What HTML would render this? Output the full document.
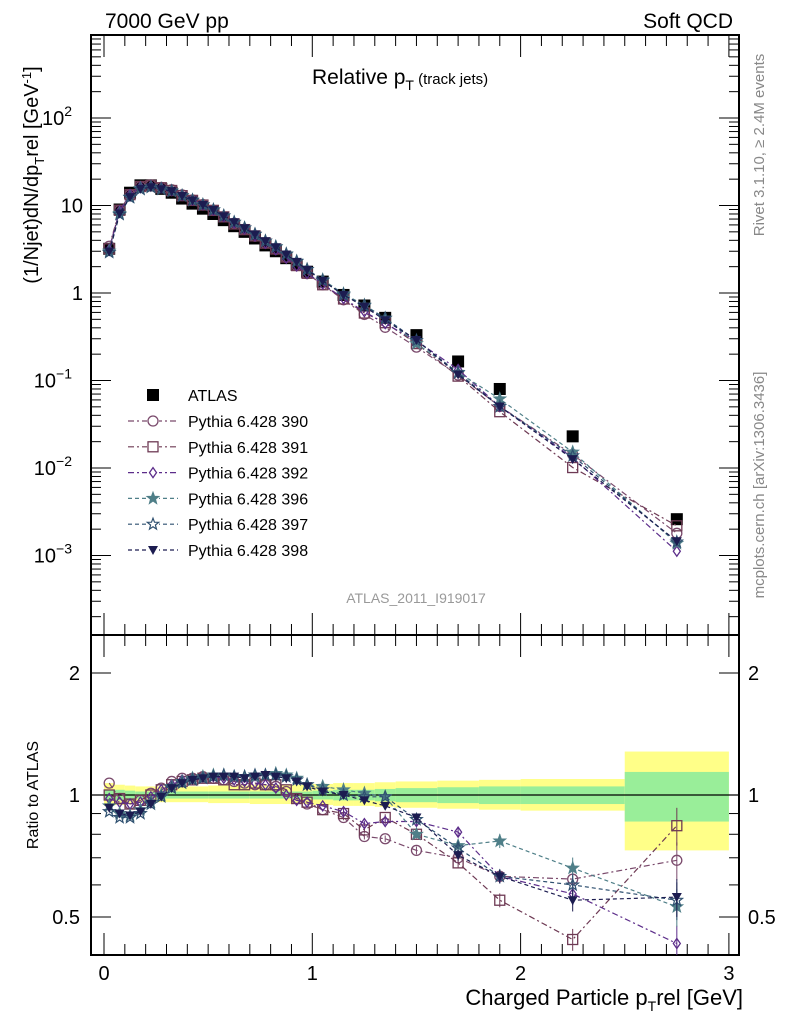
<!DOCTYPE html>
<html><head><meta charset="utf-8"><style>
body{margin:0;background:#fff;}
svg{display:block;font-family:"Liberation Sans",sans-serif;}
</style></head><body>
<svg id="c" width="786" height="1024" viewBox="0 0 786 1024">
<defs><clipPath id="rc"><rect x="91" y="635" width="648" height="320"/></clipPath></defs>
<text x="105" y="28" font-size="21">7000 GeV pp</text>
<text x="733" y="28" font-size="21" text-anchor="end">Soft QCD</text>
<text x="312" y="84" font-size="21">Relative p<tspan font-size="14" dy="6">T</tspan><tspan font-size="15" dy="-6"> (track jets)</tspan></text>
<text x="416" y="603" font-size="14" fill="#999" text-anchor="middle">ATLAS_2011_I919017</text>
<text transform="translate(764,145) rotate(-90)" font-size="15" fill="#888" text-anchor="middle">Rivet 3.1.10, ≥ 2.4M events</text>
<text transform="translate(764,485) rotate(-90)" font-size="15" fill="#888" text-anchor="middle">mcplots.cern.ch [arXiv:1306.3436]</text>
<text transform="translate(38,175) rotate(-90)" font-size="20" text-anchor="middle">(1/Njet)dN/dp<tspan font-size="13" dy="6">T</tspan><tspan dy="-6">rel [GeV</tspan><tspan font-size="13" dy="-7">-1</tspan><tspan dy="7">]</tspan></text>
<text transform="translate(38,795) rotate(-90)" font-size="16" text-anchor="middle">Ratio to ATLAS</text>
<text x="743" y="1005" font-size="22" text-anchor="end">Charged Particle p<tspan font-size="14" dy="6">T</tspan><tspan dy="-6">rel [GeV]</tspan></text>
<g id="g"></g>
</svg>
<script>
const xs=[0.025,0.075,0.125,0.175,0.225,0.275,0.325,0.375,0.425,0.475,0.525,0.575,0.625,0.675,0.725,0.775,0.825,0.875,0.925,0.975,1.05,1.15,1.25,1.35,1.5,1.7,1.9,2.25,2.75];
const atlas=[3.2,9,14,17,17,15.5,14,12,10.5,9.2,8,6.8,5.8,5,4.2,3.5,3,2.5,2.1,1.75,1.35,0.95,0.72,0.52,0.33,0.165,0.08,0.023,0.0026];
const r390=[1.07,0.98,0.95,0.97,1.01,1.04,1.08,1.1,1.1,1.11,1.1,1.09,1.08,1.07,1.06,1.06,1.05,1.02,0.98,0.95,0.92,0.88,0.79,0.78,0.73,0.7,0.63,0.62,0.69];
const r391=[1.0,0.98,0.95,0.97,1.0,1.03,1.06,1.08,1.09,1.1,1.1,1.09,1.06,1.06,1.07,1.06,1.06,1.03,0.98,0.96,0.92,0.9,0.82,0.88,0.8,0.68,0.55,0.44,0.84];
const r392=[0.98,0.96,0.95,0.96,0.99,1.03,1.06,1.09,1.1,1.11,1.11,1.1,1.09,1.08,1.07,1.06,1.04,1.0,0.97,0.96,0.94,0.91,0.85,0.86,0.86,0.81,0.63,0.57,0.43];
const r396=[0.94,0.9,0.89,0.92,0.96,1.0,1.05,1.08,1.1,1.11,1.12,1.12,1.11,1.11,1.11,1.12,1.13,1.12,1.1,1.06,1.05,1.03,1.01,0.99,0.8,0.75,0.77,0.66,0.53];
const r397=[0.91,0.88,0.88,0.9,0.95,0.99,1.04,1.07,1.09,1.1,1.11,1.12,1.11,1.11,1.12,1.12,1.12,1.11,1.09,1.06,1.03,1.0,0.99,0.99,0.87,0.74,0.63,0.6,0.55];
const r398=[0.93,0.9,0.89,0.91,0.95,0.99,1.04,1.07,1.09,1.1,1.11,1.11,1.11,1.1,1.11,1.12,1.11,1.1,1.08,1.05,1.02,1.0,0.97,0.94,0.88,0.71,0.63,0.55,0.56];
const bandEdges=[0,0.05,0.1,0.15,0.2,0.3,0.5,0.7,1.0,1.1,1.2,1.3,1.4,1.6,1.8,2.0,2.5,3.0];
const statLo=[0.03,0.03,0.025,0.02,0.02,0.02,0.02,0.02,0.025,0.03,0.03,0.035,0.04,0.045,0.05,0.05,0.14];
const statHi=[0.03,0.03,0.025,0.02,0.02,0.02,0.02,0.02,0.025,0.03,0.03,0.035,0.04,0.045,0.05,0.05,0.14];
const totLo=[0.06,0.055,0.05,0.045,0.04,0.04,0.045,0.05,0.055,0.06,0.06,0.065,0.07,0.075,0.08,0.085,0.27];
const totHi=[0.07,0.06,0.055,0.05,0.05,0.05,0.055,0.06,0.065,0.07,0.07,0.075,0.08,0.085,0.09,0.095,0.28];
const series=[
 {n:"Pythia 6.428 390",r:r390,c:"#7a4a6c",m:"circle",d:"6,3,2,3"},
 {n:"Pythia 6.428 391",r:r391,c:"#6e3a54",m:"square",d:"6,3,2,3"},
 {n:"Pythia 6.428 392",r:r392,c:"#5c2d8a",m:"diamond",d:"6,3,2,3"},
 {n:"Pythia 6.428 396",r:r396,c:"#4f7f88",m:"starf",d:"4,3"},
 {n:"Pythia 6.428 397",r:r397,c:"#2f5070",m:"star",d:"4,3"},
 {n:"Pythia 6.428 398",r:r398,c:"#1c1c50",m:"tri",d:"4,3"}];
const L=91,R=739,T=35,M=635,B=955;
const X=v=>104+v*208.3;
const Y=v=>293-87.5*Math.log10(v);
const YR=v=>795-122*Math.log2(v);
const NS="http://www.w3.org/2000/svg",g=document.getElementById('g');
function el(t,a,p){const e=document.createElementNS(NS,t);for(const k in a)e.setAttribute(k,a[k]);(p||g).appendChild(e);return e;}
const rg=el('g',{'clip-path':'url(#rc)'});
for(let i=0;i<statLo.length;i++){
 const x0=X(bandEdges[i]),x1=X(bandEdges[i+1]);
 const y=el('rect',{x:x0,y:YR(1+totHi[i]),width:x1-x0,height:YR(1-totLo[i])-YR(1+totHi[i]),fill:'#ffff88'},rg);
 
 
 const gr=el('rect',{x:x0,y:YR(1+statHi[i]),width:x1-x0,height:YR(1-statLo[i])-YR(1+statHi[i]),fill:'#99ee99'},rg);
 
 
}
el('line',{x1:L,x2:R,y1:YR(1),y2:YR(1),stroke:'#000','stroke-width':1.2});
el('rect',{x:L,y:T,width:R-L,height:M-T,fill:'none',stroke:'#000','stroke-width':2});
el('rect',{x:L,y:M,width:R-L,height:B-M,fill:'none',stroke:'#000','stroke-width':2});
for(let i=0;i<=30;i++){const v=i/10,x=X(v),big=i%10==0,h=big?22:11;
 [[M,-1],[M,1],[B,-1],[T,1]].forEach(([yy,s])=>el('line',{x1:x,x2:x,y1:yy,y2:yy+s*h,stroke:'#000','stroke-width':1}));
 if(big){const t=el('text',{x:x,y:980,'font-size':20,'text-anchor':'middle'});t.textContent=v;
 
 }}
for(let e=-4;e<=3;e++){for(let k=1;k<10;k++){const v=k*Math.pow(10,e),y=Y(v);if(y<T||y>M)continue;const h=k==1?20:10;
 el('line',{x1:L,x2:L+h,y1:y,y2:y,stroke:'#000'});el('line',{x1:R,x2:R-h,y1:y,y2:y,stroke:'#000'});}}
const ylab=[[100,"10","2"],[10,"10",""],[1,"1",""],[0.1,"10","−1"],[0.01,"10","−2"],[0.001,"10","−3"]];
ylab.forEach(([v,b,s])=>{const t=el('text',{x:s?72:83,y:Y(v)+7,'font-size':20,'text-anchor':'end'});t.textContent=b;
 
 
 if(s){const u=el('tspan',{'font-size':14,dy:-9},t);u.textContent=s;}});
[0.4,0.5,0.6,0.7,0.8,0.9,1,2].forEach(v=>{const y=YR(v);if(y<M||y>B)return;const h=(v==0.5||v==1||v==2)?20:10;
 el('line',{x1:L,x2:L+h,y1:y,y2:y,stroke:'#000'});el('line',{x1:R,x2:R-h,y1:y,y2:y,stroke:'#000'});});
[[0.5,"0.5"],[1,"1"],[2,"2"]].forEach(([v,s])=>{[[80,'end'],[748,'start']].forEach(([x,a])=>{const t=el('text',{x:x,y:YR(v)+7,'font-size':20,'text-anchor':a});t.textContent=s;
 
 });});
function mark(m,x,y,c,p){const s=5;let e;
 if(m=="circle")e=el('circle',{cx:x,cy:y,r:s,fill:'none',stroke:c,'stroke-width':1.3},p);
 else if(m=="square")e=el('rect',{x:x-s,y:y-s,width:2*s,height:2*s,fill:'none',stroke:c,'stroke-width':1.3},p);
 else if(m=="diamond")e=el('polygon',{points:`${x},${y-s} ${x+3.5},${y} ${x},${y+s} ${x-3.5},${y}`,fill:'none',stroke:c,'stroke-width':1.3},p);
 else if(m=="tri")e=el('polygon',{points:`${x-s},${y-4} ${x+s},${y-4} ${x},${y+5}`,fill:c},p);
 else {let pts=[];for(let i=0;i<10;i++){const r=i%2?2.5:6,a=-Math.PI/2+i*Math.PI/5;pts.push((x+r*Math.cos(a)).toFixed(1)+","+(y+r*Math.sin(a)).toFixed(1));}
  e=el('polygon',{points:pts.join(' '),fill:m=="starf"?c:'none',stroke:c,'stroke-width':1.2},p);}
 return e;}
atlas.forEach((v,i)=>{const r=el('rect',{x:X(xs[i])-6,y:Y(v)-6,width:12,height:12,fill:'#000'});
 
 });
series.forEach((s,si)=>{
 const gg=el('g',{});
 
 
 const gb=el('g',{'clip-path':'url(#rc)'},gg);
 const top=s.r.map((r,i)=>X(xs[i]).toFixed(1)+","+Y(r*atlas[i]).toFixed(1)).join(' ');
 el('polyline',{points:top,fill:'none',stroke:s.c,'stroke-width':1.2,'stroke-dasharray':s.d},gg);
 const bot=s.r.map((r,i)=>X(xs[i]).toFixed(1)+","+YR(r).toFixed(1)).join(' ');
 el('polyline',{points:bot,fill:'none',stroke:s.c,'stroke-width':1.2,'stroke-dasharray':s.d},gb);
 s.r.forEach((r,i)=>{const x=X(xs[i]);
  if(xs[i]>1.1){const e=0.015+0.09*(xs[i]-1)*(xs[i]-1)/3;el('line',{x1:x,x2:x,y1:YR(r*(1+e)),y2:YR(r*(1-e)),stroke:s.c},gb);}
  mark(s.m,x,Y(r*atlas[i]),s.c,gg);mark(s.m,x,YR(r),s.c,gb);});
 const ly=421+si*25.8;
 el('line',{x1:128,x2:178,y1:ly,y2:ly,stroke:s.c,'stroke-width':1.2,'stroke-dasharray':s.d},gg);
 el('rect',{x:147,y:ly-7,width:12,height:14,fill:'#fff'},gg);
 mark(s.m,153,ly,s.c,gg);
 const t=el('text',{x:188,y:ly+6,'font-size':16},gg);t.textContent=s.n;
 
 
});
const lr=el('rect',{x:147,y:389,width:12,height:12,fill:'#000'});


const lt=el('text',{x:188,y:401,'font-size':16});lt.textContent="ATLAS";


</script>
</body></html>
